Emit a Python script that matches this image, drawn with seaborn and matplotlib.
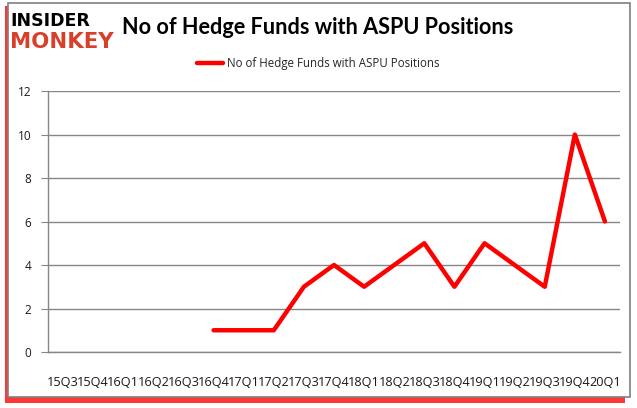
import numpy as np
import pandas as pd
import seaborn as sns
import matplotlib.pyplot as plt
from matplotlib.patches import Rectangle

# Veriler
quarters = ["15Q3", "15Q4", "16Q1", "16Q2", "16Q3", "16Q4", "17Q1", "17Q2", "17Q3", "17Q4",
            "18Q1", "18Q2", "18Q3", "18Q4", "19Q1", "19Q2", "19Q3", "19Q4", "20Q1"]
funds = [np.nan, np.nan, np.nan, np.nan, np.nan, 1, 1, 1, 3, 4,
         3, 4, 5, 3, 5, 4, 3, 10, 6]
series_name = "No of Hedge Funds with ASPU Positions"

df = pd.DataFrame({"pos": range(len(quarters)), "quarter": quarters, "funds": funds})

sns.set_style("white")
plt.rcParams["font.family"] = ["Open Sans", "DejaVu Sans"]

fig = plt.figure(figsize=(6.37, 4.08), dpi=100)
W, H = 637, 408

# Dış çerçeve ve kırmızı gölge
fig.patches.append(Rectangle((5 / W, 1 - 403 / H), 620 / W, 397 / H, transform=fig.transFigure,
                             facecolor="#ff2020", edgecolor="none", alpha=0.9, zorder=0))
fig.patches.append(Rectangle((8 / W, 1 - 397 / H), 622 / W, 394 / H, transform=fig.transFigure,
                             facecolor="white", edgecolor="#808080", linewidth=1.2, zorder=1))

ax = fig.add_axes([48 / W, 1 - 352 / H, 572 / W, 261 / H])
ax.set_zorder(2)
ax.patch.set_alpha(0)

sns.lineplot(data=df, x="pos", y="funds", color="#ff0000", linewidth=3.2, ax=ax,
             label=series_name, legend=False)

ax.set_xlim(-0.5, len(quarters) - 0.5)
ax.set_ylim(0, 12)
ax.set_yticks(range(0, 13, 2))
ax.set_xticks(range(len(quarters)))
ax.set_xticklabels(quarters)
ax.set_xticks(np.arange(-0.5, len(quarters), 1), minor=True)
ax.tick_params(axis="x", which="major", length=0, pad=17, labelsize=9.2, colors="#1a1a1a")
ax.tick_params(axis="x", which="minor", length=4, color="#868686", direction="out")
ax.tick_params(axis="y", length=5, color="#868686", direction="out", labelsize=8.5,
               colors="#1a1a1a", left=True, pad=7)
ax.set_xlabel("")
ax.set_ylabel("")

ax.yaxis.grid(True, color="#868686", linewidth=1)
ax.set_axisbelow(True)
for side in ["top", "right"]:
    ax.spines[side].set_visible(False)
for side in ["left", "bottom"]:
    ax.spines[side].set_color("#868686")
    ax.spines[side].set_linewidth(1)

# Başlık
fig.text(122 / W, 1 - 28 / H, series_name, fontsize=15.6, fontweight="bold",
         va="center", ha="left", color="black", family="Lato")

# Logo
fig.text(10 / W, 1 - 21 / H, "INSIDER", fontsize=12.5, fontweight="heavy", va="center",
         ha="left", color="black", family="DejaVu Sans")
fig.text(10 / W, 1 - 42 / H, "MONKEY", fontsize=15.3, fontweight="heavy", va="center",
         ha="left", color="#d9402b", family="DejaVu Sans")

# Lejant
handles, labels = ax.get_legend_handles_labels()
fig.legend(handles, labels, loc="center", bbox_to_anchor=(0.5, 1 - 64 / H), frameon=False,
           fontsize=8.3, handlelength=2.2, handletextpad=0.4)

fig.savefig("out.png", dpi=100)
